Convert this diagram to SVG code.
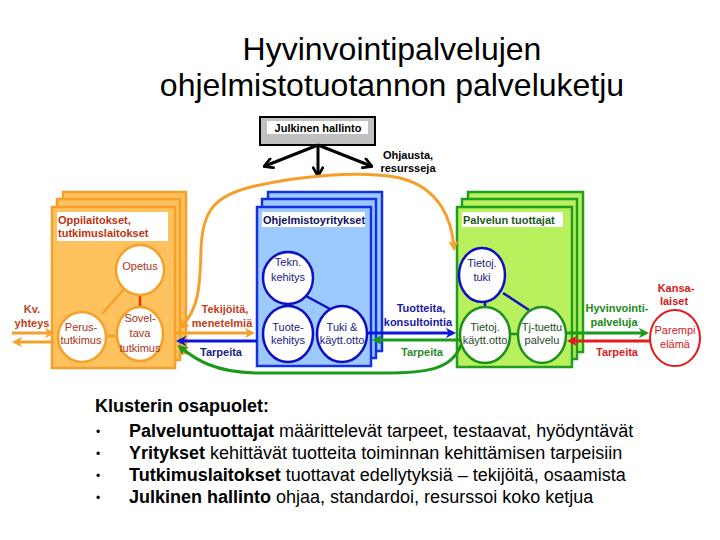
<svg xmlns="http://www.w3.org/2000/svg" width="720" height="540" viewBox="0 0 720 540">
<defs>
<style>
text{font-family:"Liberation Sans",Arial,sans-serif}
.title{font-size:32px;fill:#000;text-anchor:middle}
.lbl{font-size:11px;font-weight:bold;text-anchor:middle}
.hdr{font-size:11px;font-weight:bold}
.ct{font-size:11px;text-anchor:middle}
.boxO{fill:#fdc25e;stroke:#f5a02a;stroke-width:2.5}
.boxB{fill:#9ccaff;stroke:#1530e0;stroke-width:2.5}
.boxG{fill:#b8f05e;stroke:#1f9e1f;stroke-width:2.5}
.hbar{fill:#fff}
.cO{fill:#fff;stroke:#f5a02a;stroke-width:2.5}
.cB{fill:#fff;stroke:#1010c0;stroke-width:2.5}
.cG{fill:#fff;stroke:#1f8f1f;stroke-width:2.5}
.cR{fill:#fff;stroke:#e01b1b;stroke-width:2}
.ln{fill:none;stroke-width:3}
.bul{font-size:18px;fill:#000}
.dot{font-size:12px;fill:#000}
</style>
<marker id="mO" viewBox="0 0 10 10" refX="7" refY="5" markerWidth="3.5" markerHeight="3.5" orient="auto-start-reverse"><path d="M0,0 L10,5 L0,10 L3,5 z" fill="#f5a02a"/></marker>
<marker id="mB" viewBox="0 0 10 10" refX="7" refY="5" markerWidth="3.5" markerHeight="3.5" orient="auto-start-reverse"><path d="M0,0 L10,5 L0,10 L3,5 z" fill="#0b18d8"/></marker>
<marker id="mG" viewBox="0 0 10 10" refX="7" refY="5" markerWidth="3.5" markerHeight="3.5" orient="auto-start-reverse"><path d="M0,0 L10,5 L0,10 L3,5 z" fill="#1a9a1a"/></marker>
<marker id="mR" viewBox="0 0 10 10" refX="7" refY="5" markerWidth="3.5" markerHeight="3.5" orient="auto-start-reverse"><path d="M0,0 L10,5 L0,10 L3,5 z" fill="#e01b1b"/></marker>
<marker id="mK" viewBox="0 0 10 10" refX="8" refY="5" markerWidth="4" markerHeight="4" orient="auto"><path d="M1,0.5 L9,5 L1,9.5" fill="none" stroke="#000" stroke-width="2.2"/></marker>
</defs>
<rect width="720" height="540" fill="#fff"/>

<g id="title">
<text class="title" x="392" y="60">Hyvinvointipalvelujen</text>
<text class="title" x="392" y="96">ohjelmistotuotannon palveluketju</text>
</g>

<g id="julkinen-hallinto">
<rect x="260" y="117" width="115" height="28" fill="#c0c0c0" stroke="#000" stroke-width="2"/>
<rect x="267" y="121" width="101" height="13" fill="#fff"/>
<text class="hdr" x="318" y="131.5" text-anchor="middle" fill="#000">Julkinen hallinto</text>
</g>

<g id="oppilaitokset">
<rect class="boxO" x="63" y="192" width="123" height="161"/>
<rect class="boxO" x="57" y="199" width="123" height="161"/>
<rect class="boxO" x="52" y="207" width="123" height="161"/>
<rect class="hbar" x="57" y="212" width="111" height="29"/>
<text class="hdr" x="58" y="224" fill="#b8360f">Oppilaitokset,</text>
<text class="hdr" x="58" y="237" fill="#b8360f">tutkimuslaitokset</text>
</g>

<g id="ohjelmistoyritykset">
<rect class="boxB" x="268" y="192" width="114" height="159"/>
<rect class="boxB" x="262" y="199" width="114" height="159"/>
<rect class="boxB" x="257" y="207" width="114" height="159"/>
<rect class="hbar" x="262" y="212" width="103" height="15"/>
<text class="hdr" x="263" y="224" fill="#101060">Ohjelmistoyritykset</text>
</g>

<g id="palvelun-tuottajat">
<rect class="boxG" x="468" y="192" width="115" height="160"/>
<rect class="boxG" x="462" y="199" width="115" height="160"/>
<rect class="boxG" x="457" y="207" width="115" height="160"/>
<rect class="hbar" x="462" y="212" width="101" height="15"/>
<text class="hdr" x="463" y="224" fill="#1e5a1e">Palvelun tuottajat</text>
</g>

<g id="connectors">
<path class="ln" d="M318,145 L265,166" stroke="#000" stroke-width="2.5" marker-end="url(#mK)"/>
<path class="ln" d="M318,145 L318,175" stroke="#000" stroke-width="2.5" marker-end="url(#mK)"/>
<path class="ln" d="M318,145 L371,166" stroke="#000" stroke-width="2.5" marker-end="url(#mK)"/>
<path d="M125,288 L102,314" stroke="#f5a02a" stroke-width="2.5"/>
<path d="M140,295 L140,308" stroke="#e03a10" stroke-width="2.5"/>
<path d="M105,336 L118,336" stroke="#f5a02a" stroke-width="2.5"/>
<path d="M288,302 L288,307" stroke="#1010c0" stroke-width="2.5"/>
<path d="M306,296 L330,309" stroke="#1010c0" stroke-width="2.5"/>
<path d="M485,301 L485,308" stroke="#1010c0" stroke-width="2.5"/>
<path d="M503,293 L529,310" stroke="#1010c0" stroke-width="2.5"/>
<path d="M509,334 L518,334" stroke="#1f8f1f" stroke-width="2.5"/>
<path class="ln" d="M12,333 L52,333" stroke="#f5a02a" marker-end="url(#mO)"/>
<path class="ln" d="M54,342 L15,342" stroke="#f5a02a" marker-end="url(#mO)"/>
<path class="ln" d="M176,333 L252,333" stroke="#f5a02a" marker-end="url(#mO)"/>
<path class="ln" d="M257,341 L179,341" stroke="#0b18d8" marker-end="url(#mB)"/>
<path class="ln" d="M367,333 L453,333" stroke="#0b18d8" marker-end="url(#mB)"/>
<path class="ln" d="M460,340 L375,340" stroke="#1a9a1a" marker-end="url(#mG)"/>
<path class="ln" d="M566,333 L646,333" stroke="#1a9a1a" marker-end="url(#mG)"/>
<path class="ln" d="M650,341 L570,341" stroke="#e01b1b" marker-end="url(#mR)"/>
<path class="ln" d="M181,327 C198,310 200,290 201,250 C202,210 215,195 255,186 C300,176 360,170 400,178 C440,188 452,220 454,248" stroke="#f5a02a" marker-start="url(#mO)" marker-end="url(#mO)"/>
<path class="ln" d="M461,345 C452,370 425,373 385,373 L255,373 C215,372 196,360 180,347" stroke="#1a9a1a" marker-end="url(#mG)"/>
</g>

<g id="labels">
<text class="lbl" x="32" y="313" fill="#c0401a">Kv.</text>
<text class="lbl" x="32" y="327" fill="#c0401a">yhteys</text>
<text class="lbl" x="225" y="313" fill="#c0401a">Tekijöitä,</text>
<text class="lbl" x="222" y="327" fill="#c0401a">menetelmiä</text>
<text class="lbl" x="221" y="356" fill="#1a237e">Tarpeita</text>
<text class="lbl" x="421" y="312" fill="#1a1aa0">Tuotteita,</text>
<text class="lbl" x="418" y="326" fill="#1a1aa0">konsultointia</text>
<text class="lbl" x="422" y="356" fill="#2a8a2a">Tarpeita</text>
<text class="lbl" x="617" y="312" fill="#1a8a1a">Hyvinvointi-</text>
<text class="lbl" x="614" y="326" fill="#1a8a1a">palveluja</text>
<text class="lbl" x="617" y="356" fill="#e02020">Tarpeita</text>
<text class="lbl" x="676" y="292" fill="#d01818">Kansa-</text>
<text class="lbl" x="674" y="305" fill="#d01818">laiset</text>
<text class="lbl" x="408" y="159" fill="#000">Ohjausta,</text>
<text class="lbl" x="408" y="172" fill="#000">resursseja</text>
</g>

<g id="opetus"><ellipse class="cO" cx="140" cy="270" rx="24" ry="25"/><text class="ct" x="140" y="270" fill="#a83214">Opetus</text></g>
<g id="perustutkimus"><ellipse class="cO" cx="82" cy="337" rx="24" ry="25"/><text class="ct" x="81" y="331" fill="#a83214">Perus-</text><text class="ct" x="81" y="344" fill="#a83214">tutkimus</text></g>
<g id="soveltava"><ellipse class="cO" cx="140" cy="334" rx="23" ry="27"/><text class="ct" x="140" y="322" fill="#a83214">Sovel-</text><text class="ct" x="140" y="337" fill="#a83214">tava</text><text class="ct" x="140" y="352" fill="#a83214">tutkimus</text></g>

<g id="tekn-kehitys"><ellipse class="cB" cx="288" cy="278" rx="25" ry="26"/><text class="ct" x="288" y="266" fill="#1a1a80">Tekn.</text><text class="ct" x="288" y="281" fill="#1a1a80">kehitys</text></g>
<g id="tuotekehitys"><ellipse class="cB" cx="288" cy="334" rx="25" ry="28"/><text class="ct" x="288" y="331" fill="#1a1a80">Tuote-</text><text class="ct" x="288" y="344" fill="#1a1a80">kehitys</text></g>
<g id="tuki-kayttoonotto"><ellipse class="cB" cx="342" cy="334" rx="25" ry="28"/><text class="ct" x="342" y="331" fill="#1a1a80">Tuki &amp;</text><text class="ct" x="342" y="344" fill="#1a1a80">käytt.otto</text></g>

<g id="tietoj-tuki"><ellipse class="cB" cx="482" cy="275" rx="23" ry="27"/><text class="ct" x="482" y="267" fill="#1a1a80">Tietoj.</text><text class="ct" x="482" y="281" fill="#1a1a80">tuki</text></g>
<g id="tietoj-kayttoonotto"><ellipse class="cG" cx="485" cy="335" rx="25" ry="28"/><text class="ct" x="485" y="331" fill="#2a4a2a">Tietoj.</text><text class="ct" x="485" y="344" fill="#2a4a2a">käytt.otto</text></g>
<g id="tj-tuettu-palvelu"><ellipse class="cG" cx="542" cy="335" rx="24" ry="28"/><text class="ct" x="542" y="331" fill="#2a4a2a">Tj-tuettu</text><text class="ct" x="542" y="344" fill="#2a4a2a">palvelu</text></g>

<g id="kansalaiset"><ellipse class="cR" cx="675" cy="338" rx="25" ry="28"/><text class="ct" x="675" y="334" fill="#d01818">Parempi</text><text class="ct" x="675" y="348" fill="#d01818">elämä</text></g>

<g id="klusteri">
<text class="bul" x="95" y="412" font-size="18.5" font-weight="bold">Klusterin osapuolet:</text>
<text class="dot" x="96" y="436">•</text>
<text class="bul" x="129" y="437"><tspan font-weight="bold">Palveluntuottajat</tspan> määrittelevät tarpeet, testaavat, hyödyntävät</text>
<text class="dot" x="96" y="458">•</text>
<text class="bul" x="129" y="459"><tspan font-weight="bold">Yritykset</tspan> kehittävät tuotteita toiminnan kehittämisen tarpeisiin</text>
<text class="dot" x="96" y="480">•</text>
<text class="bul" x="129" y="481"><tspan font-weight="bold">Tutkimuslaitokset</tspan> tuottavat edellytyksiä – tekijöitä, osaamista</text>
<text class="dot" x="96" y="502">•</text>
<text class="bul" x="129" y="503"><tspan font-weight="bold">Julkinen hallinto</tspan> ohjaa, standardoi, resurssoi koko ketjua</text>
</g>
</svg>
